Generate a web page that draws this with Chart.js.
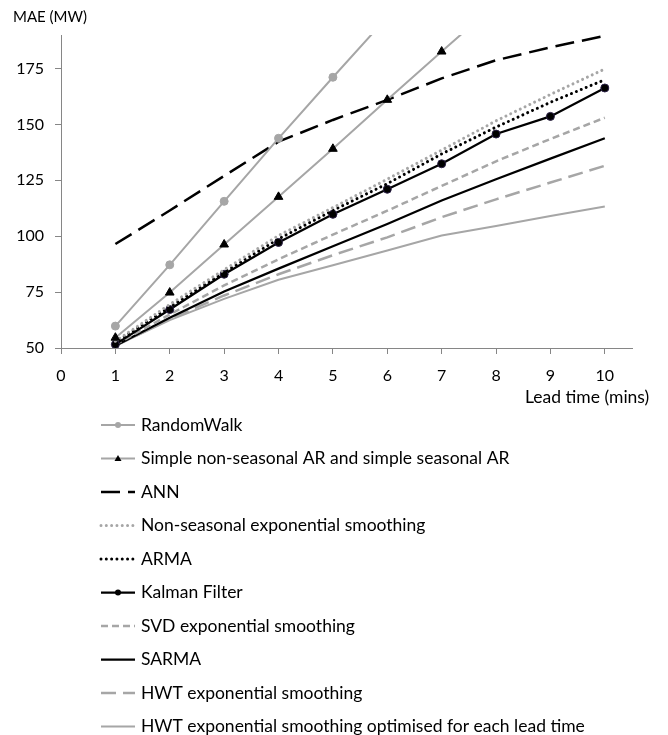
<!DOCTYPE html>
<html>
<head>
<meta charset="utf-8">
<script src="https://cdn.jsdelivr.net/npm/chart.js@4"></script>
<style>
  html, body { margin: 0; padding: 0; background: #fff; }
  #wrap { width: 668px; height: 735px; position: relative; }
</style>
</head>
<body>
<div id="wrap"><canvas id="grafico"></canvas></div>
<script>
// ── Dados ─────────────────────────────────────────────
var leadTimes = [1, 2, 3, 4, 5, 6, 7, 8, 9, 10];
var xTicks    = [0, 1, 2, 3, 4, 5, 6, 7, 8, 9, 10];
var yTicks    = [50, 75, 100, 125, 150, 175];

var nomes = [
  'RandomWalk',
  'Simple non-seasonal AR and simple seasonal AR',
  'ANN',
  'Non-seasonal exponential smoothing',
  'ARMA',
  'Kalman Filter',
  'SVD exponential smoothing',
  'SARMA',
  'HWT exponential smoothing',
  'HWT exponential smoothing optimised for each lead time'
];

var randomWalk = [59.8, 87.2, 115.6, 143.8, 171.1, 198];
var simpleAR   = [54.6, 74.8, 96.3, 117.6, 139.1, 161.0, 182.6, 204];
var ann        = [96.5, 111.5, 127.0, 142.3, 152.0, 161.0, 170.6, 178.7, 184.5, 189.6];
var nonSeasES  = [53.0, 69.5, 85.0, 100.3, 112.8, 125.5, 138.5, 151.6, 163.4, 174.8];
var arma       = [52.5, 68.3, 83.8, 98.8, 111.5, 123.5, 136.8, 148.8, 159.9, 170.0];
var kalman     = [51.6, 67.2, 83.0, 97.2, 109.8, 121.0, 132.4, 145.7, 153.6, 166.3];
var svdES      = [51.5, 65.0, 78.0, 89.7, 100.7, 111.4, 122.5, 133.5, 143.5, 153.0];
var sarma      = [51.0, 63.5, 75.3, 85.5, 95.5, 105.5, 116.0, 125.5, 134.7, 143.8];
var hwtES      = [51.0, 63.0, 73.5, 83.0, 91.5, 99.5, 108.5, 116.5, 124.0, 131.5];
var hwtOpt     = [51.0, 62.5, 72.0, 80.5, 87.0, 93.6, 100.3, 104.6, 109.0, 113.3];

// ── Paleta ────────────────────────────────────────────
var PRETO = '#000000';
var CINZA = '#A6A6A6';
var EIXO  = '#868686';
var FONTE = "Lato, 'Liberation Sans', sans-serif";

function pontos(valores) {
  return valores.map(function(v, i) { return { x: leadTimes[i], y: v }; });
}

function serie(i, valores, cor, largura, traco, extra) {
  var ds = {
    label: nomes[i],
    data: pontos(valores),
    borderColor: cor,
    backgroundColor: cor,
    borderWidth: largura,
    borderDash: traco,
    borderCapStyle: 'butt',
    pointRadius: 0,
    pointHoverRadius: 0,
    tension: 0,
    fill: false
  };
  return Object.assign(ds, extra || {});
}

var datasets = [
  serie(0, randomWalk, CINZA, 2, [], { pointStyle: 'circle', pointRadius: 4, pointBackgroundColor: CINZA, pointBorderColor: CINZA, pointBorderWidth: 1 }),
  serie(1, simpleAR, CINZA, 2, [], { pointStyle: 'triangle', pointRadius: 5, pointBackgroundColor: PRETO, pointBorderColor: PRETO, pointBorderWidth: 1 }),
  serie(2, ann, PRETO, 2.5, [19, 8]),
  serie(3, nonSeasES, CINZA, 3, [0.01, 5.3], { borderCapStyle: 'round' }),
  serie(4, arma, PRETO, 3, [0.01, 5.3], { borderCapStyle: 'round' }),
  serie(5, kalman, PRETO, 2.25, [], { pointStyle: 'circle', pointRadius: 4, pointBackgroundColor: PRETO, pointBorderColor: '#2a1f45', pointBorderWidth: 1 }),
  serie(6, svdES, CINZA, 2.5, [7, 4]),
  serie(7, sarma, PRETO, 2.25, []),
  serie(8, hwtES, CINZA, 2.5, [15, 7]),
  serie(9, hwtOpt, CINZA, 2, [])
];

// ── Textos e legenda desenhados à mão ─────────────────
var extras = {
  id: 'extras',
  afterDraw: function(chart) {
    var ctx = chart.ctx;
    ctx.save();
    ctx.fillStyle = '#000';
    ctx.textBaseline = 'middle';
    ctx.textAlign = 'left';
    ctx.font = '15px ' + FONTE;
    ctx.fillText('MAE (MW)', 13, 17);
    ctx.font = '17.5px ' + FONTE;
    ctx.fillText('Lead time (mins)', 525, 397);

    var y0 = 425, passo = 33.5;
    chart.data.datasets.forEach(function(ds, i) {
      var y = y0 + i * passo;
      ctx.save();
      ctx.strokeStyle = ds.borderColor;
      ctx.lineWidth = ds.borderWidth;
      ctx.lineCap = ds.borderCapStyle;
      ctx.setLineDash(ds.borderDash || []);
      ctx.beginPath();
      ctx.moveTo(101, y);
      ctx.lineTo(135, y);
      ctx.stroke();
      ctx.setLineDash([]);
      if (ds.pointRadius > 0) {
        ctx.fillStyle = ds.pointBackgroundColor;
        ctx.beginPath();
        if (ds.pointStyle === 'triangle') {
          ctx.moveTo(118, y - 3.5);
          ctx.lineTo(121.5, y + 2.5);
          ctx.lineTo(114.5, y + 2.5);
          ctx.closePath();
        } else {
          ctx.arc(118, y, 3, 0, Math.PI * 2);
        }
        ctx.fill();
      }
      ctx.restore();
      ctx.fillText(ds.label, 141, y);
    });
    ctx.restore();
  }
};

Chart.defaults.font.family = FONTE;
Chart.defaults.font.size = 16;
Chart.defaults.color = '#000';

new Chart(document.getElementById('grafico'), {
  type: 'line',
  data: { datasets: datasets },
  options: {
    responsive: true,
    maintainAspectRatio: false,
    animation: false,
    layout: { padding: { top: 35, left: 12, right: 36, bottom: 347 } },
    plugins: {
      legend: { display: false },
      tooltip: { enabled: false }
    },
    scales: {
      x: {
        type: 'linear',
        min: 0,
        max: 10.5,
        afterFit: function(s) { s.height = 40; },
        afterBuildTicks: function(s) {
          s.ticks = xTicks.map(function(v) { return { value: v }; });
        },
        grid: { display: true, drawOnChartArea: false, drawTicks: true, tickLength: 6, color: EIXO },
        border: { display: true, color: EIXO, width: 1 },
        ticks: { padding: 12, maxRotation: 0, autoSkip: false }
      },
      y: {
        min: 50,
        max: 190,
        afterFit: function(s) { s.width = 49; },
        afterBuildTicks: function(s) {
          s.ticks = yTicks.map(function(v) { return { value: v }; });
        },
        grid: { display: true, drawOnChartArea: false, drawTicks: true, tickLength: 6, color: EIXO },
        border: { display: true, color: EIXO, width: 1 },
        ticks: { padding: 11 }
      }
    }
  },
  plugins: [extras]
});
</script>
</body>
</html>
